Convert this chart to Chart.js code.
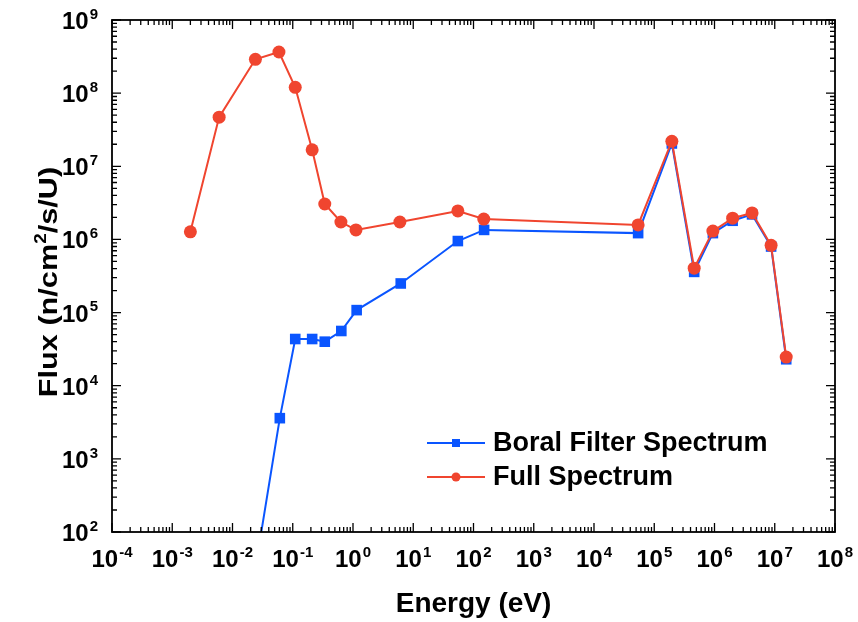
<!DOCTYPE html>
<html>
<head>
<meta charset="utf-8">
<script src="https://cdn.jsdelivr.net/npm/chart.js@4/dist/chart.umd.min.js"></script>
<style>
  html,body{margin:0;padding:0;background:#fff;}
  canvas{display:block;}
</style>
</head>
<body>
<canvas id="chart" width="858" height="622"></canvas>
<script>
// energies (eV) and flux (n/cm2/s/U)
const energyFull = [2.0e-3, 6.0e-3, 2.4e-2, 5.9e-2, 1.1e-1, 2.1e-1, 3.4e-1, 6.3e-1, 1.12, 6.0, 55, 148, 5.4e4, 1.96e5, 4.6e5, 9.4e5, 2.0e6, 4.2e6, 8.7e6, 1.55e7];
const fluxFull   = [1.27e6, 4.7e7, 2.9e8, 3.65e8, 1.2e8, 1.68e7, 3.05e6, 1.73e6, 1.35e6, 1.73e6, 2.45e6, 1.9e6, 1.58e6, 2.2e7, 4.05e5, 1.3e6, 1.95e6, 2.3e6, 8.3e5, 2.46e4];

const energyBoral = [2.4e-2, 6.1e-2, 1.1e-1, 2.1e-1, 3.4e-1, 6.4e-1, 1.15, 6.2, 55, 150, 5.4e4, 1.96e5, 4.6e5, 9.4e5, 2.0e6, 4.2e6, 8.7e6, 1.55e7];
const fluxBoral   = [32, 3.6e3, 4.35e4, 4.35e4, 4.0e4, 5.6e4, 1.08e5, 2.5e5, 9.5e5, 1.35e6, 1.22e6, 2.05e7, 3.6e5, 1.22e6, 1.8e6, 2.2e6, 8.0e5, 2.3e4];

const xExponents = [-4,-3,-2,-1,0,1,2,3,4,5,6,7,8];
const yExponents = [2,3,4,5,6,7,8,9];
const seriesNames = ['Boral Filter Spectrum','Full Spectrum'];

const RED = '#f0452f';
const BLUE = '#0a55ff';
const FONT = "'Liberation Sans', Arial, sans-serif";

function pts(xs, ys){ return xs.map((x,i)=>({x:x, y:ys[i]})); }

function drawPow(ctx, x, y, exp, size, supSize, align){
  // "10" plus a raised exponent; y is the baseline of "10"
  ctx.font = 'bold '+size+'px '+FONT;
  const wb = ctx.measureText('10').width;
  ctx.font = 'bold '+supSize+'px '+FONT;
  const ws = ctx.measureText(String(exp)).width;
  const w = wb + 1 + ws;
  const x0 = align==='center' ? x - w/2 : x - w;
  ctx.textAlign = 'left';
  ctx.textBaseline = 'alphabetic';
  ctx.font = 'bold '+size+'px '+FONT;
  ctx.fillText('10', x0, y);
  ctx.font = 'bold '+supSize+'px '+FONT;
  ctx.fillText(String(exp), x0 + wb + 1, y - size*0.42);
}

const frame = {
  id:'frame',
  afterDraw(chart){
    const {ctx, chartArea:a, scales} = chart;
    const xs = scales.x, ys = scales.y;
    ctx.save();
    ctx.fillStyle = '#000';
    ctx.strokeStyle = '#000';

    ctx.lineWidth = 1.8;
    ctx.strokeRect(a.left, a.top, a.right-a.left, a.bottom-a.top);

    // inward ticks, all four sides
    ctx.lineWidth = 1.3;
    ctx.beginPath();
    xExponents.forEach(e=>{
      for(let m=1;m<=9;m++){
        if(e===8 && m>1) break;
        const px = xs.getPixelForValue(m*Math.pow(10,e));
        const len = m===1 ? 9 : 5;
        ctx.moveTo(px, a.bottom); ctx.lineTo(px, a.bottom-len);
        ctx.moveTo(px, a.top); ctx.lineTo(px, a.top+len);
      }
    });
    yExponents.forEach(e=>{
      for(let m=1;m<=9;m++){
        if(e===9 && m>1) break;
        const py = ys.getPixelForValue(m*Math.pow(10,e));
        const len = m===1 ? 9 : 5;
        ctx.moveTo(a.left, py); ctx.lineTo(a.left+len, py);
        ctx.moveTo(a.right, py); ctx.lineTo(a.right-len, py);
      }
    });
    ctx.stroke();

    xExponents.forEach(e=>{
      drawPow(ctx, xs.getPixelForValue(Math.pow(10,e)), a.bottom+35, e, 24, 15, 'center');
    });
    yExponents.forEach(e=>{
      drawPow(ctx, a.left-14, ys.getPixelForValue(Math.pow(10,e))+9, e, 24, 15, 'right');
    });

    ctx.textAlign = 'center';
    ctx.textBaseline = 'alphabetic';
    ctx.font = 'bold 28px '+FONT;
    ctx.fillText('Energy (eV)', (a.left+a.right)/2, 612);

    // y title, a bit stretched along its length like the original
    ctx.translate(57, 282);
    ctx.rotate(-Math.PI/2);
    ctx.scale(1.18, 1);
    const p1 = 'Flux (n/cm', p2 = '2', p3 = '/s/U)';
    ctx.font = 'bold 26px '+FONT;
    const w1 = ctx.measureText(p1).width, w3 = ctx.measureText(p3).width;
    ctx.font = 'bold 16px '+FONT;
    const w2 = ctx.measureText(p2).width;
    let tx = -(w1+w2+w3)/2;
    ctx.textAlign = 'left';
    ctx.font = 'bold 26px '+FONT;
    ctx.fillText(p1, tx, 0); tx += w1;
    ctx.font = 'bold 16px '+FONT;
    ctx.fillText(p2, tx, -11); tx += w2;
    ctx.font = 'bold 26px '+FONT;
    ctx.fillText(p3, tx, 0);
    ctx.restore();

    // legend
    ctx.save();
    const rows = [{y:443, c:BLUE, s:'rect'}, {y:477, c:RED, s:'circle'}];
    rows.forEach((r,i)=>{
      ctx.strokeStyle = r.c; ctx.fillStyle = r.c; ctx.lineWidth = 2;
      ctx.beginPath(); ctx.moveTo(427, r.y); ctx.lineTo(485, r.y); ctx.stroke();
      if(r.s==='rect') ctx.fillRect(452, r.y-4, 8, 8);
      else { ctx.beginPath(); ctx.arc(456, r.y, 4.5, 0, Math.PI*2); ctx.fill(); }
      ctx.fillStyle = '#000';
      ctx.font = 'bold 27px '+FONT;
      ctx.textAlign = 'left'; ctx.textBaseline = 'middle';
      ctx.fillText(seriesNames[i], 493, r.y+1);
    });
    ctx.restore();
  }
};

new Chart(document.getElementById('chart'), {
  type:'scatter',
  data:{
    datasets:[
      {label:seriesNames[1], data:pts(energyFull, fluxFull), showLine:true, tension:0,
       borderColor:RED, backgroundColor:RED, borderWidth:2,
       pointStyle:'circle', pointRadius:6.5, pointBorderWidth:0, order:0},
      {label:seriesNames[0], data:pts(energyBoral, fluxBoral), showLine:true, tension:0,
       borderColor:BLUE, backgroundColor:BLUE, borderWidth:2,
       pointStyle:'rect', pointRadius:7.5, pointBorderWidth:0, order:1}
    ]
  },
  options:{
    responsive:false,
    animation:false,
    layout:{padding:{top:20, right:23, left:0, bottom:0}},
    plugins:{legend:{display:false}, tooltip:{enabled:false}},
    scales:{
      x:{type:'logarithmic', min:1e-4, max:1e8,
         ticks:{display:false}, grid:{display:false}, border:{display:false},
         afterFit(s){ s.height = 90; }},
      y:{type:'logarithmic', min:1e2, max:1e9,
         ticks:{display:false}, grid:{display:false}, border:{display:false},
         afterFit(s){ s.width = 112; }}
    }
  },
  plugins:[frame]
});
</script>
</body>
</html>
